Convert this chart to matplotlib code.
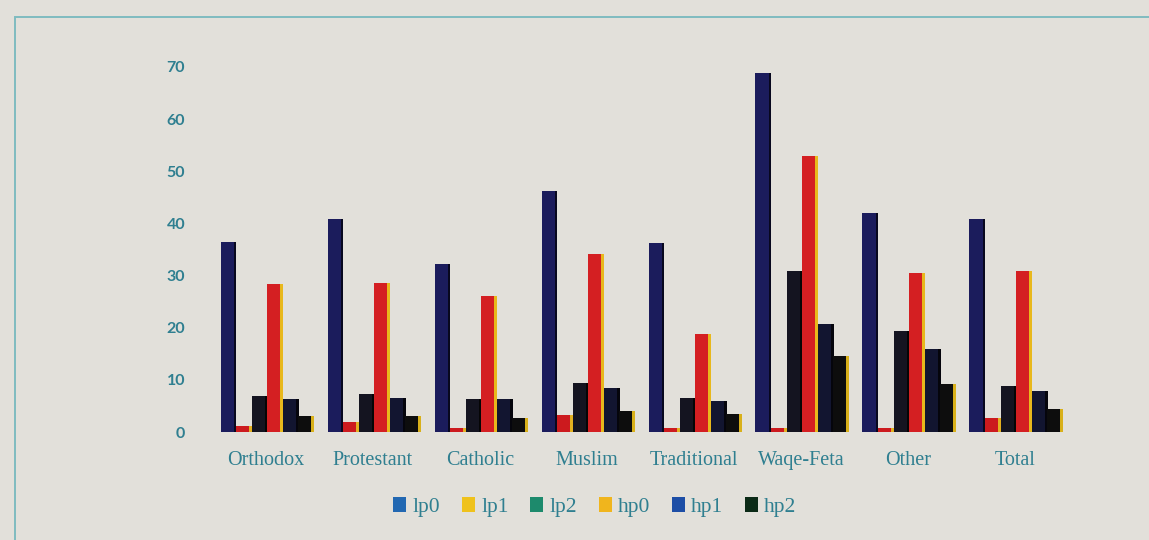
import numpy as np
import matplotlib
matplotlib.use('Agg')
import matplotlib.pyplot as plt
from matplotlib.patches import Rectangle, Patch

groups = ['Orthodox', 'Protestant', 'Catholic', 'Muslim', 'Traditional',
          'Waqe-Feta', 'Other', 'Total']
series = ['lp0', 'lp1', 'lp2', 'hp0', 'hp1', 'hp2']

lp0 = [36.5, 40.9, 32.2, 46.3, 36.3, 68.9, 42.0, 40.9]
lp1 = [1.2, 2.0, 0.8, 3.3, 0.8, 0.8, 0.7, 2.6]
lp2 = [6.9, 7.3, 6.3, 9.4, 6.5, 30.9, 19.4, 8.8]
hp0 = [28.4, 28.6, 26.1, 34.2, 18.8, 53.0, 30.5, 30.9]
hp1 = [6.3, 6.5, 6.3, 8.4, 5.9, 20.7, 15.9, 7.9]
hp2 = [3.1, 3.1, 2.7, 4.0, 3.5, 14.6, 9.2, 4.4]
yticks = [0, 10, 20, 30, 40, 50, 60, 70]

values = [lp0, lp1, lp2, hp0, hp1, hp2]
# printed bar faces / shaded sides
face = ['#1b1c5c', '#cc1a1e', '#141420', '#d41f22', '#121530', '#0d0d0d']
side = ['#08081e', '#e3b020', '#050505', '#e8b81c', '#05050c', '#d8b01a']
# swatch colours in the key
key = ['#2268b2', '#efc21c', '#1d8a6c', '#f0b51d', '#1d4ea6', '#0b2a16']

paper = '#e2e0da'
teal = '#2f7f90'

fig = plt.figure(figsize=(11.49, 5.4), dpi=100, facecolor=paper)
fig.patches.append(Rectangle((15 / 1149, -0.1), 1.2, 1 - 17 / 540 + 0.1,
                             transform=fig.transFigure, fill=False,
                             edgecolor='#7fbcc0', linewidth=1.4))

ax = fig.add_axes([0.1756, 0.2, 0.7543, 0.676])
ax.set_facecolor('none')

x = np.arange(len(groups))
w = 0.145
for i, vals in enumerate(values):
    pos = x + (i - 2.5) * w
    # side strip first, face drawn over it
    ax.bar(pos + w * 0.1, vals, w, color=side[i], zorder=2 + i)
    ax.bar(pos, vals, w * 0.86, color=face[i], zorder=2.5 + i)

ax.set_xlim(-0.6, 7.5)
ax.set_ylim(0, 70)
ax.set_yticks(yticks)
ax.set_xticks(x)
ax.set_xticklabels(groups, family='Liberation Serif', fontsize=14.5, color=teal)
for lab in ax.get_yticklabels():
    lab.set_family('Lato')
    lab.set_fontweight('bold')
    lab.set_fontsize(11.5)
    lab.set_color(teal)
ax.tick_params(length=0)
ax.tick_params(axis='y', pad=12)
ax.tick_params(axis='x', pad=14)
for s in ax.spines.values():
    s.set_visible(False)

handles = [Patch(facecolor=key[i], label=series[i]) for i in range(6)]
fig.legend(handles=handles, loc='center', bbox_to_anchor=(595 / 1149, 1 - 507 / 540),
           ncol=6, frameon=False, handlelength=0.6, handleheight=0.7,
           handletextpad=0.3, columnspacing=1.0,
           prop={'family': 'Liberation Serif', 'size': 15.5}, labelcolor=teal)

fig.savefig('out.png', dpi=100, facecolor=paper)
